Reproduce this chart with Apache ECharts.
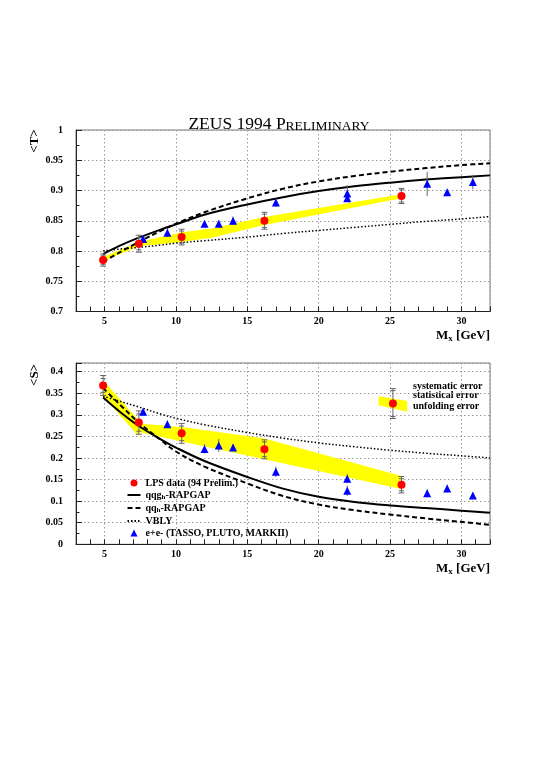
<!DOCTYPE html>
<html>
<head>
<meta charset="utf-8">
<title>ZEUS 1994 Preliminary</title>
<script src="https://cdn.jsdelivr.net/npm/echarts@6/dist/echarts.min.js"></script>
<style>html,body{margin:0;padding:0;background:#fff}</style>
</head>
<body>
<div id="chart" style="width:545px;height:770px"></div>
<script>
var SERIF = "'Liberation Serif', 'Times New Roman', serif";

// LPS points (M_x in GeV)
var lpsX = [4.9, 7.4, 10.4, 16.2, 25.8];
var lpsT = [0.785, 0.812, 0.823, 0.850, 0.891];
var lpsTStat = [0.007, 0.010, 0.010, 0.011, 0.010];
var lpsTSys = [0.010, 0.014, 0.013, 0.014, 0.0125];
var lpsS = [0.368, 0.282, 0.257, 0.220, 0.138];
var lpsSStat = [0.016, 0.020, 0.017, 0.017, 0.014];
var lpsSSys = [0.023, 0.027, 0.023, 0.022, 0.019];

// e+e- points
var eeX = [7.7, 9.4, 12.0, 13.0, 14.0, 17.0, 22.0, 22.0, 27.6, 29.0, 30.8];
var eeT = [0.820, 0.830, 0.845, 0.845, 0.850, 0.880, 0.895, 0.887, 0.911, 0.897, 0.914];
var eeTErr = [0.004, 0.007, 0.005, 0.005, 0.007, 0.007, 0.014, 0.005, 0.020, 0.004, 0.012];
var eeS = [0.307, 0.278, 0.221, 0.229, 0.224, 0.168, 0.152, 0.124, 0.118, 0.129, 0.113];
var eeSErr = [0.008, 0.009, 0.011, 0.015, 0.008, 0.012, 0.010, 0.012, 0.009, 0.009, 0.006];

// model curves
var curveX = [4.9, 6, 7.4, 9, 10, 12, 15, 17.5, 20, 22.5, 25, 27.5, 30, 32];
var tQqg = [0.795, 0.808, 0.822, 0.836, 0.844, 0.860, 0.877, 0.889, 0.899, 0.907, 0.913, 0.918, 0.922, 0.925];
var tQq = [0.782, 0.797, 0.815, 0.834, 0.845, 0.864, 0.887, 0.903, 0.915, 0.924, 0.931, 0.937, 0.942, 0.945];
var tVbly = [0.800, 0.803, 0.806, 0.810, 0.813, 0.817, 0.823, 0.829, 0.834, 0.839, 0.844, 0.849, 0.853, 0.857];
var sQqg = [0.340, 0.309, 0.274, 0.242, 0.224, 0.193, 0.156, 0.129, 0.110, 0.098, 0.090, 0.084, 0.078, 0.073];
var sQq = [0.362, 0.326, 0.282, 0.240, 0.215, 0.180, 0.141, 0.112, 0.092, 0.079, 0.069, 0.060, 0.052, 0.045];
var sVbly = [0.343, 0.332, 0.318, 0.301, 0.292, 0.277, 0.259, 0.246, 0.235, 0.226, 0.218, 0.211, 0.205, 0.200];

// unfolding error bands
var bandT1X = [4.9, 7.4], bandT1Hi = [0.790, 0.815], bandT1Lo = [0.783, 0.808];
var bandT2X = [7.4, 10.4, 12.5, 16.2, 25.8];
var bandT2Hi = [0.815, 0.831, 0.837, 0.856, 0.894];
var bandT2Lo = [0.808, 0.815, 0.822, 0.843, 0.887];
var bandS1X = [4.9, 7.4], bandS1Hi = [0.380, 0.287], bandS1Lo = [0.343, 0.250];
var bandS2X = [7.4, 10.4, 16.2, 25.8];
var bandS2Hi = [0.280, 0.272, 0.245, 0.158];
var bandS2Lo = [0.260, 0.238, 0.197, 0.128];

// error key in the lower panel
var keyX = [25.2], keyY = [0.326], keyStat = [0.030], keySys = [0.0345];
var keyBandX = [24.2, 26.2], keyBandHi = [0.343, 0.332], keyBandLo = [0.322, 0.307];

var names = ['LPS data (94 Prelim.)', 'qqgh-RAPGAP', 'qqh-RAPGAP', 'VBLY', 'e+e- (TASSO, PLUTO, MARKII)'];

function pairs(xs, ys) {
  return xs.map(function (x, i) { return [x, ys[i]]; });
}

function band(xs, hi, lo, xi, yi) {
  return {
    type: 'custom', xAxisIndex: xi, yAxisIndex: yi, silent: true, z: 1,
    data: pairs(xs, hi),
    renderItem: function (params, api) {
      if (params.dataIndex !== 0) return null;
      var pts = [], i;
      for (i = 0; i < xs.length; i++) pts.push(api.coord([xs[i], hi[i]]));
      for (i = xs.length - 1; i >= 0; i--) pts.push(api.coord([xs[i], lo[i]]));
      return { type: 'polygon', shape: { points: pts }, style: { fill: '#ffff00', stroke: null } };
    }
  };
}

function errors(xs, ys, stat, sys, xi, yi, caps) {
  return {
    type: 'custom', xAxisIndex: xi, yAxisIndex: yi, silent: true, z: 3,
    data: xs.map(function (x, i) {
      return [x, ys[i] - sys[i], ys[i] + sys[i], ys[i] - (stat ? stat[i] : 0), ys[i] + (stat ? stat[i] : 0)];
    }),
    encode: { x: 0, y: [1, 2] },
    renderItem: function (params, api) {
      var x = api.value(0);
      var lo = api.coord([x, api.value(1)]);
      var hi = api.coord([x, api.value(2)]);
      var st = { stroke: '#666', lineWidth: 1 };
      var kids = [{ type: 'line', shape: { x1: lo[0], y1: lo[1], x2: hi[0], y2: hi[1] }, style: st }];
      if (caps) {
        var sl = api.coord([x, api.value(3)]);
        var sh = api.coord([x, api.value(4)]);
        [lo, hi].forEach(function (p) {
          kids.push({ type: 'line', shape: { x1: p[0] - 3, y1: p[1], x2: p[0] + 3, y2: p[1] }, style: st });
        });
        [sl, sh].forEach(function (p) {
          kids.push({ type: 'line', shape: { x1: p[0] - 2.5, y1: p[1], x2: p[0] + 2.5, y2: p[1] }, style: st });
        });
      }
      return { type: 'group', children: kids };
    }
  };
}

function curve(name, xs, ys, xi, yi, type, width) {
  return {
    name: name, type: 'line', xAxisIndex: xi, yAxisIndex: yi, z: 2,
    data: pairs(xs, ys), smooth: 0.35, symbol: 'none', silent: true,
    itemStyle: { color: 'rgba(0,0,0,0)', borderColor: 'rgba(0,0,0,0)' },
    lineStyle: { color: '#000', width: width, type: type }
  };
}

function points(name, xs, ys, xi, yi, symbol, color, size) {
  return {
    name: name, type: 'scatter', xAxisIndex: xi, yAxisIndex: yi, z: 5,
    data: pairs(xs, ys), symbol: symbol, symbolSize: size, silent: true,
    itemStyle: { color: color, opacity: 1 }
  };
}

var gridLine = { show: true, lineStyle: { color: '#9a9a9a', width: 1, type: [1.5, 2.5] } };
var tickFont = { fontFamily: SERIF, fontWeight: 'bold', fontSize: 10, color: '#000' };

function mainX(g) {
  return {
    type: 'value', gridIndex: g, position: 'bottom', min: 3, max: 32, interval: 1,
    axisLine: { show: true, onZero: false, lineStyle: { color: '#222', width: 1 } },
    axisTick: { show: true, inside: true, length: 5, lineStyle: { color: '#222' } },
    axisLabel: Object.assign({ margin: 5, formatter: function (v) { return v % 5 === 0 ? String(v) : ''; } }, tickFont),
    splitLine: { show: false }
  };
}
function splitX(g) {
  // auto ticks (5, 10, ... 30) only for the dotted grid
  return {
    type: 'value', gridIndex: g, position: 'bottom', min: 3, max: 32,
    axisLine: { show: false }, axisTick: { show: false }, axisLabel: { show: false },
    splitLine: gridLine
  };
}
function yAx(g, min, max) {
  return {
    type: 'value', gridIndex: g, min: min, max: max, interval: 0.05,
    axisLine: { show: true, onZero: false, lineStyle: { color: '#222', width: 1 } },
    axisTick: { show: true, inside: true, length: 6, lineStyle: { color: '#222' } },
    minorTick: { show: true, splitNumber: 2, length: 3.5, lineStyle: { color: '#222' } },
    axisLabel: Object.assign({ margin: 13, showMaxLabel: g === 0 }, tickFont),
    splitLine: gridLine
  };
}

var series = [
  band(bandT1X, bandT1Hi, bandT1Lo, 0, 0),
  band(bandT2X, bandT2Hi, bandT2Lo, 0, 0),
  curve(names[1], curveX, tQqg, 0, 0, 'solid', 2),
  curve(names[2], curveX, tQq, 0, 0, [5, 3], 2),
  curve(names[3], curveX, tVbly, 0, 0, [1.5, 2], 1.5),
  errors(eeX, eeT, null, eeTErr, 0, 0, false),
  errors(lpsX, lpsT, lpsTStat, lpsTSys, 0, 0, true),
  points(names[4], eeX, eeT, 0, 0, 'triangle', '#0000ff', 8),
  points(names[0], lpsX, lpsT, 0, 0, 'circle', '#ff0000', 8),

  band(bandS1X, bandS1Hi, bandS1Lo, 2, 1),
  band(bandS2X, bandS2Hi, bandS2Lo, 2, 1),
  band(keyBandX, keyBandHi, keyBandLo, 2, 1),
  curve(names[1], curveX, sQqg, 2, 1, 'solid', 2),
  curve(names[2], curveX, sQq, 2, 1, [5, 3], 2),
  curve(names[3], curveX, sVbly, 2, 1, [1.5, 2], 1.5),
  errors(eeX, eeS, null, eeSErr, 2, 1, false),
  errors(lpsX, lpsS, lpsSStat, lpsSSys, 2, 1, true),
  errors(keyX, keyY, keyStat, keySys, 2, 1, true),
  points(names[4], eeX, eeS, 2, 1, 'triangle', '#0000ff', 8),
  points(names[0], lpsX, lpsS, 2, 1, 'circle', '#ff0000', 8),
  points('key', keyX, keyY, 2, 1, 'circle', '#ff0000', 8)
];

var rich10 = {
  n: { fontFamily: SERIF, fontWeight: 'bold', fontSize: 10, lineHeight: 12, color: '#000' },
  s: { fontFamily: SERIF, fontWeight: 'bold', fontSize: 7, lineHeight: 5, verticalAlign: 'bottom', color: '#000' }
};
var richName = {
  n: { fontFamily: SERIF, fontWeight: 'bold', fontSize: 13, lineHeight: 15, color: '#000' },
  s: { fontFamily: SERIF, fontWeight: 'bold', fontSize: 9, lineHeight: 6, verticalAlign: 'bottom', color: '#000' }
};

function text(x, y, str, extra) {
  return {
    type: 'text', x: x, y: y, rotation: extra.rotation || 0, silent: true,
    style: Object.assign({ text: str, fill: '#000', align: 'left', verticalAlign: 'middle' }, extra.style)
  };
}

var option = {
  animation: false,
  backgroundColor: '#fff',
  grid: [
    { left: 76, top: 130, width: 414, height: 181.5, show: true, borderColor: '#777', borderWidth: 1 },
    { left: 76, top: 363, width: 414, height: 181.3, show: true, borderColor: '#777', borderWidth: 1 }
  ],
  xAxis: [mainX(0), splitX(0), mainX(1), splitX(1)],
  yAxis: [yAx(0, 0.7, 1), yAx(1, 0, 0.42)],
  legend: {
    orient: 'vertical', left: 121.5, top: 473, padding: 5,
    itemWidth: 13, itemHeight: 7, itemGap: 2,
    selectedMode: false,
    data: [
      { name: names[0], icon: 'circle' },
      { name: names[1] },
      { name: names[2] },
      { name: names[3] },
      { name: names[4], icon: 'path://M0,10 L5,0 L10,10 Z' }
    ],
    formatter: function (n) {
      if (n === 'qqgh-RAPGAP') return '{n|qqg}{s|h}{n|-RAPGAP}';
      if (n === 'qqh-RAPGAP') return '{n|qq}{s|h}{n|-RAPGAP}';
      return '{n|' + n + '}';
    },
    textStyle: { fontFamily: SERIF, fontWeight: 'bold', fontSize: 10, color: '#000', rich: rich10 }
  },
  graphic: [
    text(279, 123, '{a|ZEUS 1994 P}{b|RELIMINARY}', {
      style: {
        align: 'center',
        rich: {
          a: { fontFamily: SERIF, fontSize: 17.5, lineHeight: 20, verticalAlign: 'bottom', fill: '#000', color: '#000' },
          b: { fontFamily: SERIF, fontSize: 13.5, lineHeight: 20, verticalAlign: 'bottom', fill: '#000', color: '#000' }
        }
      }
    }),
    text(35, 141, '<T>', { rotation: Math.PI / 2, style: { align: 'center', font: 'bold 13px ' + SERIF } }),
    text(35, 375, '<S>', { rotation: Math.PI / 2, style: { align: 'center', font: 'bold 13px ' + SERIF } }),
    text(490, 336, '{n|M}{s|x}{n| [GeV]}', { style: { align: 'right', rich: richName } }),
    text(490, 569, '{n|M}{s|x}{n| [GeV]}', { style: { align: 'right', rich: richName } }),
    text(413, 386, 'systematic error', { style: { font: 'bold 10px ' + SERIF } }),
    text(413, 395, 'statistical error', { style: { font: 'bold 10px ' + SERIF } }),
    text(413, 406, 'unfolding error', { style: { font: 'bold 10px ' + SERIF } })
  ],
  series: series
};

var chart = echarts.init(document.getElementById('chart'));
chart.setOption(option);
</script>
</body>
</html>
